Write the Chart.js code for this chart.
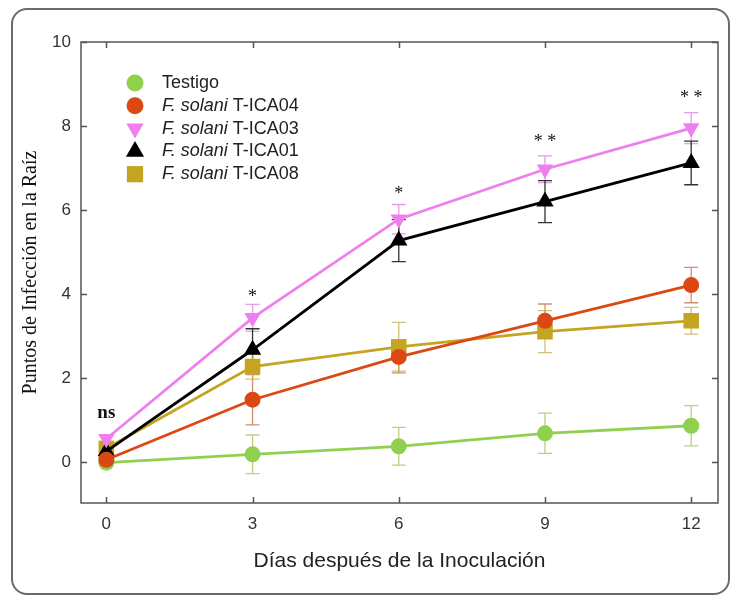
<!DOCTYPE html>
<html>
<head>
<meta charset="utf-8">
<script src="https://cdn.jsdelivr.net/npm/chart.js@4.4.1/dist/chart.umd.min.js"></script>
<style>
html, body { margin: 0; padding: 0; background: #fff; }
#wrap { position: relative; width: 737px; height: 604px; }
#frame { position: absolute; left: 11px; top: 8px; width: 719px; height: 587px; box-sizing: border-box; border: 2px solid #6a6a6a; border-radius: 16px; }
#myChart { position: absolute; left: 0; top: 0; }
</style>
</head>
<body>
<div id="wrap">
  <div id="frame"></div>
  <canvas id="myChart" width="737" height="604"></canvas>
</div>
<script>
// days after inoculation
var dias = [0, 3, 6, 9, 12];
var xTicks = [0, 3, 6, 9, 12];
var yTicks = [0, 2, 4, 6, 8, 10];

var nombres = ['Testigo', 'T-ICA04', 'T-ICA03', 'T-ICA01', 'T-ICA08'];
var especie = ['', 'F. solani', 'F. solani', 'F. solani', 'F. solani'];

// mean infection points per treatment
var testigo = [-0.02, 0.18, 0.37, 0.68, 0.86];
var ica04 = [0.05, 1.48, 2.50, 3.36, 4.21];
var ica03 = [0.55, 3.43, 5.78, 6.97, 7.95];
var ica01 = [0.25, 2.67, 5.27, 6.20, 7.12];
var ica08 = [0.32, 2.27, 2.74, 3.10, 3.36];

// standard errors
var errTestigo = [0.05, 0.46, 0.45, 0.48, 0.48];
var err04 = [0.05, 0.60, 0.38, 0.40, 0.42];
var err03 = [0.08, 0.32, 0.35, 0.32, 0.37];
var err01 = [0.10, 0.50, 0.50, 0.50, 0.52];
var err08 = [0.10, 0.30, 0.58, 0.50, 0.32];

// significance marks
var sigTexto = ['ns', '*', '*', '**', '**'];
var sigY = [1.17, 3.93, 6.38, 7.62, 8.67];

var sans = '"Liberation Sans", Arial, sans-serif';
var serif = '"Liberation Serif", "Times New Roman", serif';

function puntos(vals) {
    return dias.map(function (d, i) { return {x: d, y: vals[i]}; });
}

function serie(i, vals, errs, color, errColor, style, radius, rot, order) {
    return {
        label: (especie[i] ? especie[i] + ' ' : '') + nombres[i],
        data: puntos(vals),
        errores: errs,
        errColor: errColor,
        borderColor: color,
        backgroundColor: color,
        borderWidth: 2.8,
        pointStyle: style,
        pointRadius: radius,
        pointRotation: rot,
        pointBorderWidth: 0,
        pointHoverRadius: radius,
        tension: 0,
        fill: false,
        order: order
    };
}

var errorBars = {
    id: 'errorBars',
    beforeDatasetsDraw: function (chart) {
        var ctx = chart.ctx, x = chart.scales.x, y = chart.scales.y;
        ctx.save();
        ctx.lineWidth = 1.3;
        chart.data.datasets.forEach(function (ds) {
            ctx.strokeStyle = ds.errColor;
            ds.data.forEach(function (p, i) {
                var e = ds.errores[i];
                var px = x.getPixelForValue(p.x);
                var top = y.getPixelForValue(p.y + e);
                var bot = y.getPixelForValue(p.y - e);
                ctx.beginPath();
                ctx.moveTo(px, top); ctx.lineTo(px, bot);
                ctx.moveTo(px - 7, top); ctx.lineTo(px + 7, top);
                ctx.moveTo(px - 7, bot); ctx.lineTo(px + 7, bot);
                ctx.stroke();
            });
        });
        ctx.restore();
    }
};

var plotBox = {
    id: 'plotBox',
    afterDatasetsDraw: function (chart) {
        var ctx = chart.ctx, a = chart.chartArea, x = chart.scales.x, y = chart.scales.y;
        ctx.save();
        ctx.strokeStyle = '#555';
        ctx.lineWidth = 1.5;
        ctx.strokeRect(a.left, a.top, a.right - a.left, a.bottom - a.top);
        ctx.beginPath();
        xTicks.forEach(function (v) {
            var px = Math.round(x.getPixelForValue(v)) + 0.5;
            ctx.moveTo(px, a.bottom); ctx.lineTo(px, a.bottom - 6);
            ctx.moveTo(px, a.top); ctx.lineTo(px, a.top + 6);
        });
        yTicks.forEach(function (v) {
            var py = Math.round(y.getPixelForValue(v)) + 0.5;
            ctx.moveTo(a.left, py); ctx.lineTo(a.left + 6, py);
            ctx.moveTo(a.right, py); ctx.lineTo(a.right - 6, py);
        });
        ctx.stroke();

        // significance labels
        ctx.fillStyle = '#111';
        ctx.textAlign = 'center';
        ctx.textBaseline = 'middle';
        sigTexto.forEach(function (t, i) {
            ctx.font = t === 'ns' ? 'bold 19px ' + serif : '18px ' + serif;
            var txt = t === '**' ? '* *' : t;
            ctx.fillText(txt, x.getPixelForValue(dias[i]), y.getPixelForValue(sigY[i]));
        });
        ctx.restore();
    }
};

var leyenda = {
    id: 'leyenda',
    afterDraw: function (chart) {
        var ctx = chart.ctx, a = chart.chartArea;
        ctx.save();
        ctx.textBaseline = 'middle';
        chart.data.datasets.forEach(function (ds, i) {
            var cy = a.top + 41 + i * 22.8;
            var mx = a.left + 54;
            ctx.fillStyle = ds.backgroundColor;
            Chart.helpers.drawPoint(ctx, {
                pointStyle: ds.pointStyle,
                radius: ds.pointRadius + 0.5,
                rotation: ds.pointRotation,
                borderWidth: 0
            }, mx, cy);
            ctx.fillStyle = '#222';
            var tx = a.left + 81;
            if (especie[i]) {
                ctx.font = 'italic 18px ' + sans;
                ctx.fillText(especie[i] + ' ', tx, cy);
                tx += ctx.measureText(especie[i] + ' ').width;
            }
            ctx.font = '18px ' + sans;
            ctx.fillText(nombres[i], tx, cy);
        });
        ctx.restore();
    }
};

var ctx = document.getElementById('myChart').getContext('2d');

var config = {
    type: 'line',
    data: {
        datasets: [
            serie(0, testigo, errTestigo, '#8fd14f', 'rgba(170,190,90,0.75)', 'circle', 8, 0, 5),
            serie(1, ica04, err04, '#dc4813', 'rgba(190,95,50,0.7)', 'circle', 8, 0, 1),
            serie(2, ica03, err03, '#ef7fef', 'rgba(225,140,225,0.85)', 'triangle', 9.5, 180, 2),
            serie(3, ica01, err01, '#000000', '#333333', 'triangle', 10, 0, 3),
            serie(4, ica08, err08, '#c4a420', 'rgba(200,175,80,0.8)', 'rect', 11, 0, 4)
        ]
    },
    options: {
        responsive: false,
        animation: false,
        layout: {padding: {top: 42, right: 19, left: 0, bottom: 0}},
        plugins: {
            legend: {display: false},
            tooltip: {enabled: false}
        },
        scales: {
            x: {
                type: 'linear',
                min: -0.52,
                max: 12.55,
                afterFit: function (s) { s.height = 101; },
                afterBuildTicks: function (s) { s.ticks = xTicks.map(function (v) { return {value: v}; }); },
                grid: {display: false, drawTicks: false},
                border: {display: false},
                ticks: {color: '#333', font: {family: sans, size: 17}, padding: 11},
                title: {
                    display: true,
                    text: 'Días después de la Inoculación',
                    color: '#222',
                    font: {family: sans, size: 21},
                    padding: {top: 0, bottom: 30}
                }
            },
            y: {
                type: 'linear',
                min: -0.98,
                max: 10,
                afterFit: function (s) { s.width = 81; },
                afterBuildTicks: function (s) { s.ticks = yTicks.map(function (v) { return {value: v}; }); },
                grid: {display: false, drawTicks: false},
                border: {display: false},
                ticks: {color: '#333', font: {family: sans, size: 17}, padding: 10},
                title: {
                    display: true,
                    text: 'Puntos de Infección en la Raíz',
                    color: '#111',
                    font: {family: serif, size: 20},
                    padding: {top: 19, bottom: 0}
                }
            }
        }
    },
    plugins: [errorBars, plotBox, leyenda]
};

var myChart = new Chart(ctx, config);
</script>
</body>
</html>
